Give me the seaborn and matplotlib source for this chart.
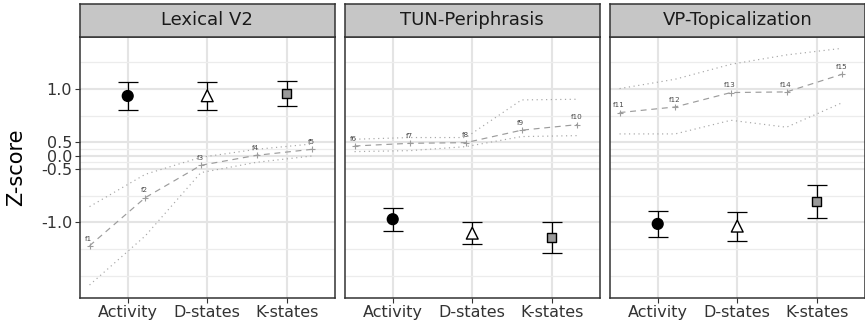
import numpy as np
import pandas as pd
import matplotlib
matplotlib.use("Agg")
import matplotlib.pyplot as plt
import seaborn as sns

# ---- data -------------------------------------------------------------
constructions = ["Lexical V2", "TUN-Periphrasis", "VP-Topicalization"]
conditions = ["Activity", "D-states", "K-states"]

# condition means (z-scores) and error-bar half widths per construction
lex_mean = [0.934, 0.936, 0.958]
lex_err = [0.129, 0.133, 0.120]
tun_mean = [-0.972, -1.103, -1.146]
tun_err = [0.109, 0.103, 0.146]
vp_mean = [-1.016, -1.037, -0.806]
vp_err = [0.122, 0.136, 0.156]

# filler items: position along the panel, mean and band limits
filler_pos = [0.52, 1.22, 1.92, 2.62, 3.32]
lex_fillers = ["f1", "f2", "f3", "f4", "f5"]
lex_fill = [-1.221, -0.770, -0.365, 0.010, 0.235]
lex_hi = [-0.854, -0.551, -0.065, 0.235, 0.435]
lex_lo = [-1.589, -1.129, -0.535, -0.253, -0.015]
tun_fillers = ["f6", "f7", "f8", "f9", "f10"]
tun_fill = [0.360, 0.460, 0.485, 0.613, 0.665]
tun_hi = [0.528, 0.544, 0.544, 0.897, 0.903]
tun_lo = [0.148, 0.185, 0.335, 0.553, 0.562]
vp_fillers = ["f11", "f12", "f13", "f14", "f15"]
vp_fill = [0.778, 0.831, 0.966, 0.972, 1.138]
vp_hi = [1.003, 1.091, 1.231, 1.319, 1.381]
vp_lo = [0.578, 0.578, 0.706, 0.641, 0.871]

y_breaks = [-1.0, -0.5, 0.0, 0.5, 1.0]
y_labels = ["-1.0", "-0.5", "0.0", "0.5", "1.0"]
y_minor = [-1.5, -1.25, -0.75, -0.25, 0.25, 0.75, 1.25]

panels = [
    (lex_mean, lex_err, lex_fillers, lex_fill, lex_hi, lex_lo),
    (tun_mean, tun_err, tun_fillers, tun_fill, tun_hi, tun_lo),
    (vp_mean, vp_err, vp_fillers, vp_fill, vp_hi, vp_lo),
]


# compressed scale around zero: |z| <= 0.5 squeezed, tails stretched
def fwd(v):
    v = np.asarray(v, dtype=float)
    a = np.abs(v)
    return np.where(a <= 0.5, 0.4 * v, np.sign(v) * (0.2 + 1.6 * (a - 0.5)))


def inv(p):
    p = np.asarray(p, dtype=float)
    a = np.abs(p)
    return np.where(a <= 0.2, p / 0.4, np.sign(p) * (0.5 + (a - 0.2) / 1.6))


# ---- style ------------------------------------------------------------
sns.set_style("white")
plt.rcParams["font.family"] = ["DejaVu Sans"]

W, H = 865, 326
fig = plt.figure(figsize=(W / 100, H / 100), dpi=100)

panel_left = [80, 345, 610]
panel_w = 254.5
panel_top, panel_bot = 37, 298
strip_top = 3.5

text_col = "#333333"
frame_col = "#333333"
grid_major = "#e4e4e4"
grid_minor = "#ececec"
fill_col = {"Activity": "black", "D-states": "white", "K-states": "#9a9a9a"}
marker_map = {"Activity": "o", "D-states": "^", "K-states": "s"}
size_map = {"Activity": 60, "D-states": 72, "K-states": 44}

for i, (name, (mean, err, fnames, fill, hi, lo)) in enumerate(zip(constructions, panels)):
    ax = fig.add_axes([panel_left[i] / W, (H - panel_bot) / H,
                       panel_w / W, (panel_bot - panel_top) / H])
    ax.set_yscale("function", functions=(fwd, inv))
    ax.set_xlim(0.4, 3.6)
    ax.set_ylim(-1.711, 1.487)

    # grid
    ax.set_xticks([1, 2, 3])
    ax.set_yticks(y_breaks)
    ax.set_yticks(y_minor, minor=True)
    ax.grid(which="major", color=grid_major, linewidth=1.5, zorder=0)
    ax.grid(which="minor", axis="y", color=grid_minor, linewidth=0.9, zorder=0)
    ax.set_axisbelow(True)

    # filler bands and means
    fdf = pd.DataFrame({"x": filler_pos, "mean": fill, "hi": hi, "lo": lo, "item": fnames})
    for col in ("hi", "lo"):
        sns.lineplot(data=fdf, x="x", y=col, ax=ax, sort=False, errorbar=None,
                     color="#a6a6a6", linewidth=0.85, linestyle=(0, (1, 3)))
    sns.lineplot(data=fdf, x="x", y="mean", ax=ax, sort=False, errorbar=None,
                 color="#9c9c9c", linewidth=0.85, linestyle=(0, (5, 4)),
                 marker="+", markersize=5, markeredgewidth=0.8,
                 markeredgecolor="#9c9c9c")
    for _, r in fdf.iterrows():
        ax.annotate(r["item"], (r["x"], r["mean"]), xytext=(-0.5, 5.2),
                    textcoords="offset points", ha="center", va="center",
                    fontsize=5.2, color="#4a4a4a")

    # condition means with error bars
    cdf = pd.DataFrame({"condition": conditions, "x": [1, 2, 3],
                        "mean": mean, "err": err})
    ax.errorbar(cdf["x"], cdf["mean"], yerr=cdf["err"], fmt="none",
                ecolor="black", elinewidth=0.9, capsize=7.2, capthick=0.9,
                zorder=3)
    sns.scatterplot(data=cdf, x="x", y="mean", hue="condition", style="condition",
                    size="condition", sizes=size_map, markers=marker_map,
                    palette=fill_col, edgecolor="black", linewidth=1.0,
                    legend=False, ax=ax, zorder=4)

    ax.set_xlabel("")
    ax.set_ylabel("")
    ax.set_xticklabels(conditions)
    if i == 0:
        ax.set_yticklabels(y_labels)
        ax.tick_params(axis="y", which="major", length=3.6, width=0.8,
                       color=frame_col, labelsize=11.5, labelcolor=text_col, pad=2,
                       left=True)
    else:
        ax.tick_params(axis="y", which="major", length=0, labelleft=False)
    ax.tick_params(axis="y", which="minor", length=0)
    ax.tick_params(axis="x", length=3.6, width=0.8, color=frame_col,
                   labelsize=11.5, labelcolor=text_col, pad=1.5, bottom=True)
    for s in ax.spines.values():
        s.set_color(frame_col)
        s.set_linewidth(1.1)

    # facet strip
    sax = fig.add_axes([panel_left[i] / W, (H - panel_top) / H,
                        panel_w / W, (panel_top - strip_top) / H])
    sax.set_facecolor("#c6c6c6")
    sax.set_xticks([])
    sax.set_yticks([])
    for s in sax.spines.values():
        s.set_color(frame_col)
        s.set_linewidth(1.1)
    sax.text(0.5, 0.5, name, ha="center", va="center", fontsize=13,
             color="#1a1a1a", transform=sax.transAxes)

fig.text(16 / W, 1 - 167.5 / H, "Z-score", rotation=90, ha="center",
         va="center", fontsize=15, color="black")

fig.savefig("out.png", dpi=100)
